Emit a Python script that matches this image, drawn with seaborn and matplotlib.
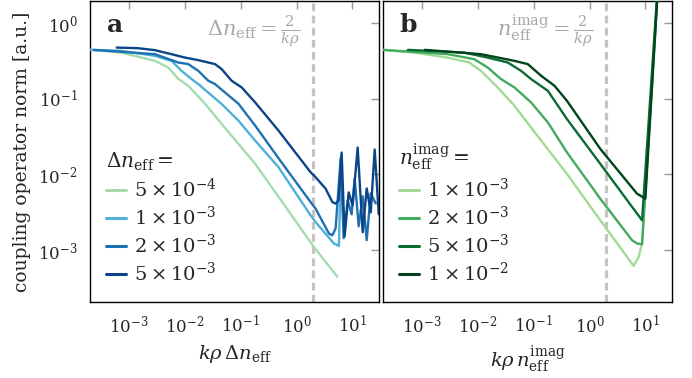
import numpy as np
import pandas as pd
import matplotlib
matplotlib.use("Agg")
import matplotlib.pyplot as plt
import seaborn as sns
from matplotlib.lines import Line2D

sns.set_theme(style="white")
plt.rcParams['font.family'] = ['DejaVu Serif']
plt.rcParams['mathtext.fontset'] = 'dejavuserif'

# ---------------- data (log10 values) ----------------
# panel a: Delta n_eff
a_labels = [r"$5\times10^{-4}$", r"$1\times10^{-3}$", r"$2\times10^{-3}$", r"$5\times10^{-3}$"]
a_colors = ["#a6dbb0", "#4fb0d8", "#1f72b2", "#0b4487"]

a1_lx = [-3.70, -3.14, -2.537, -2.298, -2.118, -1.939, -1.639, -1.341, -1.041, -0.741, 0.311, 0.731]
a1_ly = [-0.355, -0.391, -0.50, -0.588, -0.737, -0.829, -1.066, -1.333, -1.596, -1.859, -2.957, -3.351]

a2_lx = [-3.70, -3.136, -2.537, -2.239, -2.059, -1.88, -1.759, -1.341, -1.041, -0.741, -0.323, 0.251, 0.341, 0.67, 0.759, 0.799]
a2_ly = [-0.355, -0.368, -0.434, -0.50, -0.632, -0.741, -0.807, -1.07, -1.289, -1.553, -1.904, -2.539, -2.628, -2.912, -2.943, -1.75]

a3_lx = [-3.627, -2.537, -2.118, -1.939, -1.759, -1.580, -1.460, -1.041, -0.741, -0.293, 0.251, 0.341, 0.580, 0.641,
         0.700, 0.790, 0.844, 0.916, 0.987, 1.041, 1.113, 1.185, 1.257, 1.329, 1.418]
a3_ly = [-0.355, -0.412, -0.522, -0.543, -0.632, -0.763, -0.807, -1.066, -1.355, -1.816, -2.364, -2.451, -2.780, -2.803,
         -2.714, -1.789, -2.842, -2.342, -2.526, -2.053, -2.684, -2.289, -2.868, -2.25, -2.382]

a4_lx = [-3.219, -2.837, -2.537, -2.239, -1.998, -1.759, -1.460, -1.341, -1.162, -0.982, -0.741, -0.323, 0.251, 0.341,
         0.521, 0.641, 0.700, 0.754, 0.808, 0.862, 0.934, 1.005, 1.095, 1.185, 1.257, 1.329, 1.400, 1.472, 1.544]
a4_ly = [-0.325, -0.333, -0.359, -0.412, -0.457, -0.491, -0.543, -0.609, -0.763, -0.851, -1.049, -1.421, -1.970, -2.036,
         -2.188, -2.364, -2.386, -2.342, -1.711, -2.816, -2.237, -2.408, -1.645, -2.763, -2.184, -2.50, -1.671, -2.526, -2.21]

# panel b: n_eff^imag
b_labels = [r"$1\times10^{-3}$", r"$2\times10^{-3}$", r"$5\times10^{-3}$", r"$1\times10^{-2}$"]
b_colors = ["#a3da98", "#42ab5d", "#0b6b33", "#00441b"]

b1_lx = [-3.704, -3.142, -2.542, -2.154, -1.944, -1.645, -1.346, -1.005, -0.406, 0.192, 0.790, 0.880, 0.941, 1.275]
b1_ly = [-0.355, -0.391, -0.457, -0.522, -0.632, -0.851, -1.092, -1.421, -1.991, -2.605, -3.207, -3.088, -2.912, 1.079]

b2_lx = [-3.704, -2.542, -2.065, -1.824, -1.585, -1.346, -1.047, -0.747, -0.406, 0.192, 0.761, 0.851, 0.941, 1.275]
b2_ly = [-0.355, -0.412, -0.478, -0.588, -0.741, -0.851, -1.049, -1.312, -1.707, -2.320, -2.868, -2.912, -2.921, 1.079]

b3_lx = [-3.255, -2.244, -1.824, -1.465, -1.226, -1.047, -0.747, -0.406, 0.192, 0.851, 0.941, 1.275]
b3_ly = [-0.355, -0.391, -0.457, -0.522, -0.632, -0.741, -0.895, -1.267, -1.859, -2.517, -2.605, 1.079]

b4_lx = [-2.950, -1.944, -1.346, -1.106, -0.867, -0.628, -0.406, 0.192, 0.851, 1.0, 1.275]
b4_ly = [-0.355, -0.412, -0.50, -0.543, -0.697, -0.829, -1.026, -1.662, -2.254, -2.320, 1.079]

x_ticks = [1e-3, 1e-2, 1e-1, 1e0, 1e1]
x_ticklabels = [r"$10^{-3}$", r"$10^{-2}$", r"$10^{-1}$", r"$10^{0}$", r"$10^{1}$"]
y_ticks = [1e-3, 1e-2, 1e-1, 1e0]
y_ticklabels = [r"$10^{-3}$", r"$10^{-2}$", r"$10^{-1}$", r"$10^{0}$"]


def make_df(lxs, lys, labels):
    frames = []
    for lx, ly, lab in zip(lxs, lys, labels):
        frames.append(pd.DataFrame({"x": 10 ** np.array(lx), "y": 10 ** np.array(ly), "series": lab}))
    return pd.concat(frames, ignore_index=True)


df_a = make_df([a1_lx, a2_lx, a3_lx, a4_lx], [a1_ly, a2_ly, a3_ly, a4_ly], a_labels)
df_b = make_df([b1_lx, b2_lx, b3_lx, b4_lx], [b1_ly, b2_ly, b3_ly, b4_ly], b_labels)

fig = plt.figure(figsize=(6.92, 3.78), dpi=100)
ax_a = fig.add_axes([90 / 692, 1 - 302 / 378, 289 / 692, 301 / 378])
ax_b = fig.add_axes([383 / 692, 1 - 302 / 378, 289 / 692, 301 / 378])


def style_axis(ax, df, labels, colors, title, xlabel, letter, annot, show_y):
    ax.set_xscale("log")
    ax.set_yscale("log")
    ax.axvline(2.0, color="#c4c4c4", lw=2.3, ls=(0, (2.4, 1.4)), zorder=1)
    sns.lineplot(data=df, x="x", y="y", hue="series", hue_order=labels,
                 palette=dict(zip(labels, colors)), sort=False, estimator=None,
                 lw=1.7, ax=ax, legend=False, zorder=3)
    ax.set_xlim(2e-4, 30)
    ax.set_ylim(2.07e-4, 1.95)
    ax.set_xticks(x_ticks)
    ax.set_xticklabels(x_ticklabels)
    ax.set_yticks(y_ticks)
    if show_y:
        ax.set_yticklabels(y_ticklabels)
        ax.set_ylabel("coupling operator norm [a.u.]", fontsize=13.5, labelpad=5)
    else:
        ax.set_yticklabels([])
        ax.set_ylabel("")
    ax.minorticks_off()
    ax.tick_params(which="both", direction="in", top=True, right=True, color="#999999",
                   length=6, width=1, labelsize=12, pad=9)
    for s in ax.spines.values():
        s.set_color("black")
        s.set_linewidth(1.0)
    ax.set_xlabel(xlabel, fontsize=14, labelpad=5)
    ax.text(0.058, 0.92, letter, transform=ax.transAxes, fontsize=18, fontweight="bold",
            ha="left", va="center")
    ax.text(annot[0], annot[1], annot[2], transform=ax.transAxes, fontsize=15,
            color="#a8a8a8", ha="right", va="center")
    handles = [Line2D([0], [0], color=c, lw=2.2) for c in colors]
    leg = ax.legend(handles, labels, title=title, loc="lower left", frameon=False,
                    fontsize=14, title_fontsize=14.5, handlelength=1.0, handletextpad=0.4,
                    labelspacing=0.25, borderaxespad=0.0, bbox_to_anchor=(0.03, 0.03))
    leg._legend_box.align = "left"


style_axis(ax_a, df_a, a_labels, a_colors, r"$\Delta n_{\rm eff} =$",
           r"$k\rho\,\Delta n_{\rm eff}$", "a",
           (0.727, 0.90, r"$\Delta n_{\rm eff} = \frac{2}{k\rho}$"), True)
style_axis(ax_b, df_b, b_labels, b_colors, r"$n_{\rm eff}^{\rm imag} =$",
           r"$k\rho\,n_{\rm eff}^{\rm imag}$", "b",
           (0.727, 0.90, r"$n_{\rm eff}^{\rm imag} = \frac{2}{k\rho}$"), False)

fig.savefig("out.png", dpi=100)
